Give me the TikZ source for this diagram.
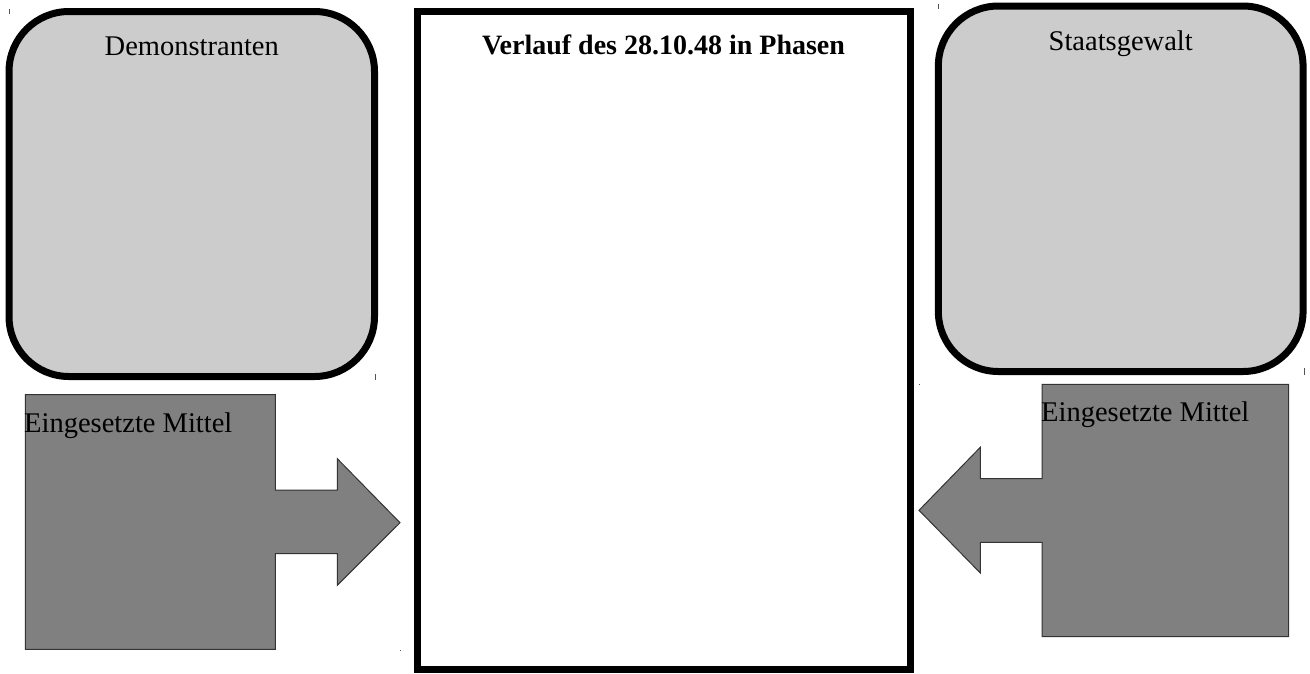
\documentclass[tikz,border=0pt]{standalone}
\usepackage{fontspec}
\setmainfont{Liberation Serif}
\definecolor{boxgray}{HTML}{CCCCCC}
\definecolor{arrowgray}{HTML}{808080}
\definecolor{edgegray}{HTML}{333333}
\definecolor{tickgray}{HTML}{555555}
\tikzset{
  roundbox/.style={draw=black, line width=7pt, fill=boxgray, rounded corners=60pt, inner sep=0pt, outer sep=0pt},
  mainbox/.style={draw=black, line width=7pt, fill=white, inner sep=0pt, outer sep=0pt},
  lbl/.style={inner sep=0pt, font=\fontsize{28.5}{34}\selectfont},
  blbl/.style={inner sep=0pt, font=\fontsize{28}{34}\selectfont\bfseries},
  arrowshape/.style={draw=edgegray, line width=1pt, fill=arrowgray, line join=miter},
  tick/.style={draw=tickgray, line width=1pt}
}
\begin{document}
\begin{tikzpicture}[x=1pt,y=-1pt]
\useasboundingbox (0,0) rectangle (1310,673);
% rounded boxes
\node[roundbox, minimum width=365.5pt, minimum height=365pt] (demo) at (191.75,194) {};
\node[roundbox, minimum width=364.7pt, minimum height=365.5pt] (staat) at (1120.7,188.75) {};
\node[lbl, anchor=base] (demotxt) at (191.75,55) {Demonstranten};
\node[lbl, anchor=base] (staattxt) at (1120.7,50) {Staatsgewalt};
% central box
\node[mainbox, minimum width=493pt, minimum height=658.5pt] (main) at (663.5,340.25) {};
\node[blbl, anchor=base] (title) at (663.5,54) {Verlauf des 28.10.48 in Phasen};
% left arrow
\draw[arrowshape] (25.3,394.7) -- (275.3,394.7) -- (275.3,490) -- (337.3,490) -- (337.3,458.7) -- (400,522.7) -- (337.3,585.3) -- (337.3,553.7) -- (275.3,553.7) -- (275.3,649.3) -- (25.3,649.3) -- cycle;
\node[lbl, anchor=base west] (lmittel) at (24,432.7) {Eingesetzte Mittel};
% right arrow
\draw[arrowshape] (1288.7,384.3) -- (1042,384.3) -- (1042,478.7) -- (980.3,478.7) -- (980.3,447.3) -- (919,510.3) -- (980.3,573) -- (980.3,542.3) -- (1042,542.3) -- (1042,636.7) -- (1288.7,636.7) -- cycle;
\node[lbl, anchor=base west] (rmittel) at (1041,421.7) {Eingesetzte Mittel};
% small marks
\draw[tick] (9.5,9) -- (9.5,14);
\draw[tick] (375.5,374) -- (375.5,380);
\draw[tick] (938.5,4) -- (938.5,9);
\draw[tick] (1304.5,368) -- (1304.5,375);
\fill[tickgray] (919,383.5) rectangle (920,384.5);
\fill[tickgray] (400,649.5) rectangle (401,650.5);
\end{tikzpicture}
\end{document}
